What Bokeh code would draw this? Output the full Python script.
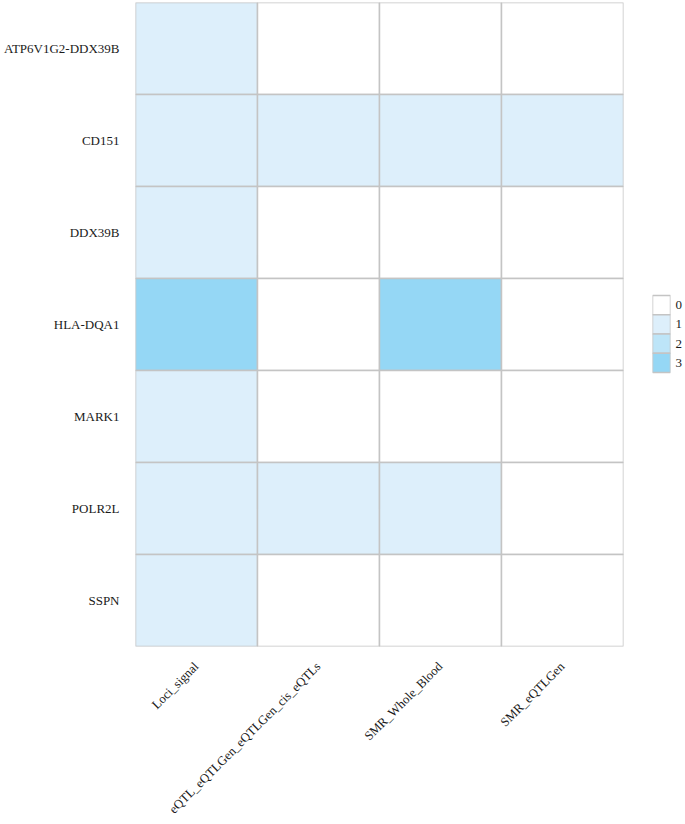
from bokeh.plotting import figure
from bokeh.models import ColumnDataSource, FactorRange, Range1d, FixedTicker
from bokeh.layouts import row
from bokeh.embed import file_html
from bokeh.resources import INLINE

genes = ["ATP6V1G2-DDX39B", "CD151", "DDX39B", "HLA-DQA1", "MARK1", "POLR2L", "SSPN"]
methods = ["Loci_signal", "eQTL_eQTLGen_eQTLGen_cis_eQTLs", "SMR_Whole_Blood", "SMR_eQTLGen"]
# values[gene][method]
values = [
    [1, 0, 0, 0],
    [1, 1, 1, 1],
    [1, 0, 0, 0],
    [3, 0, 3, 0],
    [1, 0, 0, 0],
    [1, 1, 1, 0],
    [1, 0, 0, 0],
]
levels = ["0", "1", "2", "3"]
level_colors = ["#FFFFFF", "#DDEFFB", "#BDE5F8", "#95D7F5"]

FONT = "Liberation Serif"
GRID = "#C4C4C4"
TXT = "#1a1a1a"

xs, ys, cs = [], [], []
for gi, g in enumerate(genes):
    for mi, m in enumerate(methods):
        xs.append(m)
        ys.append(g)
        cs.append(level_colors[values[gi][mi]])
src = ColumnDataSource(dict(x=xs, y=ys, c=cs))

p = figure(
    width=625, height=824,
    x_range=FactorRange(*methods),
    y_range=FactorRange(*reversed(genes)),
    output_backend="svg", toolbar_location=None,
    min_border_left=134, min_border_right=2, min_border_top=2, min_border_bottom=178,
)
p.rect(x="x", y="y", width=1, height=1, source=src,
       fill_color="c", line_color=GRID, line_width=1.5)

p.outline_line_color = None
p.xgrid.grid_line_color = None
p.ygrid.grid_line_color = None
for ax in (p.xaxis[0], p.yaxis[0]):
    ax.axis_line_color = None
    ax.major_tick_line_color = None
    ax.minor_tick_line_color = None
    ax.major_tick_out = 0
    ax.major_tick_in = 0
    ax.major_label_text_font = FONT
    ax.major_label_text_color = TXT
p.yaxis[0].major_label_text_font_size = "13px"
p.xaxis[0].major_label_text_font_size = "12.7px"
p.yaxis[0].major_label_standoff = 16
p.xaxis[0].major_label_standoff = 18
p.xaxis[0].major_label_orientation = 0.785398

# legend as a small keyed figure (same borders top/bottom as the heatmap)
lpos = list(range(len(levels)))
lsrc = ColumnDataSource(dict(y=lpos, c=level_colors, x=[0.5] * len(levels)))
leg = figure(
    width=60, height=824,
    x_range=Range1d(0, 1),
    y_range=Range1d(17.734, -15.721),
    output_backend="svg", toolbar_location=None, y_axis_location="right",
    min_border_left=27, min_border_right=15, min_border_top=2, min_border_bottom=178,
)
leg.rect(x="x", y="y", width=1, height=1, source=lsrc,
         fill_color="c", line_color=GRID, line_width=1.5)
leg.outline_line_color = None
leg.xgrid.grid_line_color = None
leg.ygrid.grid_line_color = None
leg.xaxis.visible = False
lax = leg.yaxis[0]
lax.ticker = FixedTicker(ticks=lpos)
lax.major_label_overrides = {i: lv for i, lv in zip(lpos, levels)}
lax.axis_line_color = None
lax.major_tick_line_color = None
lax.minor_tick_line_color = None
lax.major_tick_out = 0
lax.major_tick_in = 0
lax.major_label_standoff = 5
lax.major_label_text_font = FONT
lax.major_label_text_font_size = "13px"
lax.major_label_text_color = TXT

layout = row(p, leg, spacing=0)
open("out.html", "w").write(file_html(layout, INLINE))
